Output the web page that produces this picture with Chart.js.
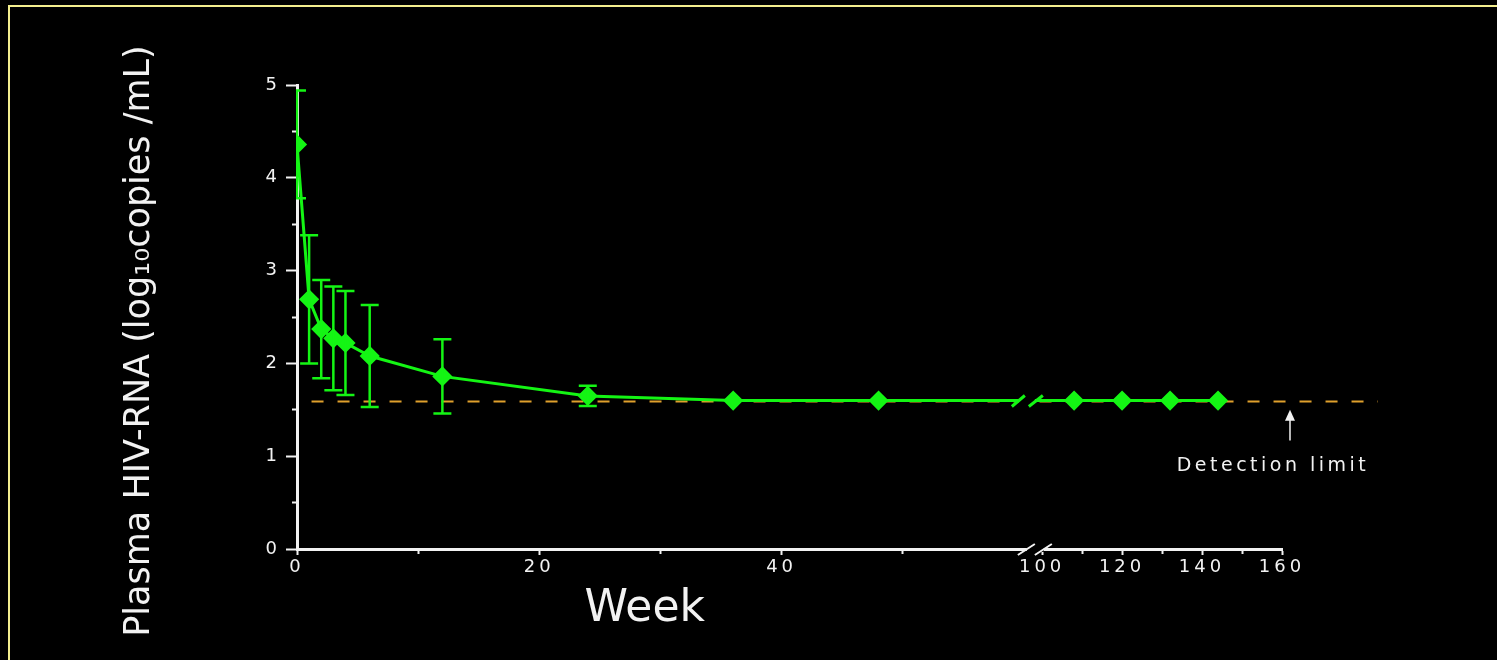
<!DOCTYPE html>
<html>
<head>
<meta charset="utf-8">
<script src="https://cdn.jsdelivr.net/npm/chart.js@4.4.1/dist/chart.umd.min.js"></script>
<style>
  html, body { margin: 0; background: #000; overflow: hidden; }
  #wrap { position: absolute; left: 0; top: 0; width: 1497px; height: 660px; }
  #frame {
    position: absolute; left: 8px; top: 5px; width: 1600px; height: 800px;
    border-left: 2px solid #f3ee8e; border-top: 2px solid #f3ee8e;
    pointer-events: none;
  }
</style>
</head>
<body>
<div id="wrap"><canvas id="hivChart"></canvas></div>
<div id="frame"></div>
<script>
// Plasma HIV-RNA, mean +/- SD by week
const weeks = [0, 1, 2, 3, 4, 6, 12, 24, 36, 48, 108, 120, 132, 144];
const meanLoad = [4.36, 2.69, 2.37, 2.27, 2.22, 2.08, 1.86, 1.65, 1.60, 1.60, 1.60, 1.60, 1.60, 1.60];
const sdLoad = [0.58, 0.69, 0.53, 0.56, 0.56, 0.55, 0.40, 0.11, 0, 0, 0, 0, 0, 0];
const detectionLimit = 1.59;
const detectionWeeks = [1.2, 184];
const xTickWeeks = [0, 10, 20, 30, 40, 50, 100, 110, 120, 130, 140, 150, 160];

const GREEN = "#14f514";
const WHITE = "#f2f2f2";
const FONT = '"DejaVu Sans", sans-serif';

// x axis is broken between week 60 and 100, later weeks are squeezed
const toAxis = (w) => (w <= 60 ? w : 61.5 + (w - 100) * 0.33);

const extras = {
  id: "extras",
  beforeDraw(chart) {
    chart.ctx.letterSpacing = "0px";
  },
  afterDatasetsDraw(chart) {
    const { ctx, chartArea, scales } = chart;
    const x = scales.x, y = scales.y;
    const pts = chart.getDatasetMeta(0).data;

    // error bars
    ctx.save();
    ctx.beginPath();
    ctx.rect(chartArea.left - 1, 0, chart.width, chart.height);
    ctx.clip();
    ctx.strokeStyle = GREEN;
    ctx.lineWidth = 2.5;
    sdLoad.forEach((sd, i) => {
      if (!sd) return;
      const px = pts[i].x;
      const top = y.getPixelForValue(meanLoad[i] + sd);
      const bot = y.getPixelForValue(meanLoad[i] - sd);
      ctx.beginPath();
      ctx.moveTo(px, top);
      ctx.lineTo(px, bot);
      ctx.moveTo(px - 9, top);
      ctx.lineTo(px + 9, top);
      ctx.moveTo(px - 9, bot);
      ctx.lineTo(px + 9, bot);
      ctx.stroke();
    });
    ctx.restore();

    // axis break marks
    ctx.save();
    const bx = x.getPixelForValue(60.9);
    const y0 = y.getPixelForValue(0);
    ctx.fillStyle = "#000";
    ctx.fillRect(bx - 8, y0 - 3, 17, 6);
    ctx.strokeStyle = WHITE;
    ctx.lineWidth = 2;
    ctx.beginPath();
    ctx.moveTo(bx - 17, y0 + 6); ctx.lineTo(bx, y0 - 5);
    ctx.moveTo(bx, y0 + 6); ctx.lineTo(bx + 17, y0 - 5);
    ctx.stroke();

    const lx = bx - 8;
    const ly = y.getPixelForValue(1.6);
    ctx.fillRect(lx - 8, ly - 4, 16, 8);
    ctx.strokeStyle = GREEN;
    ctx.lineWidth = 3;
    ctx.beginPath();
    ctx.moveTo(lx - 15, ly + 6); ctx.lineTo(lx - 2, ly - 5);
    ctx.moveTo(lx + 2, ly + 6); ctx.lineTo(lx + 16, ly - 5);
    ctx.stroke();
    ctx.restore();

    // tick labels come after this, they are spaced out like the original
    ctx.letterSpacing = "4px";
  },
  afterDraw(chart) {
    const { ctx, scales } = chart;
    const x = scales.x, y = scales.y;
    ctx.save();
    ctx.fillStyle = WHITE;
    ctx.strokeStyle = WHITE;

    // detection limit arrow + label
    const ax = x.getPixelForValue(toAxis(162));
    const tip = y.getPixelForValue(1.5);
    ctx.lineWidth = 1.5;
    ctx.beginPath();
    ctx.moveTo(ax, y.getPixelForValue(1.17));
    ctx.lineTo(ax, tip + 6);
    ctx.stroke();
    ctx.beginPath();
    ctx.moveTo(ax, tip);
    ctx.lineTo(ax - 5, tip + 11);
    ctx.lineTo(ax + 5, tip + 11);
    ctx.closePath();
    ctx.fill();

    ctx.letterSpacing = "3.5px";
    ctx.font = "19px " + FONT;
    ctx.textAlign = "center";
    ctx.textBaseline = "middle";
    ctx.fillText("Detection limit", ax - 17, y.getPixelForValue(0.89));

    // axis titles
    ctx.letterSpacing = "0px";
    ctx.font = "44px " + FONT;
    ctx.textBaseline = "alphabetic";
    ctx.fillText("Week", x.getPixelForValue(28.7), 621);

    ctx.translate(140, 341);
    ctx.rotate(-Math.PI / 2);
    ctx.font = "35px " + FONT;
    ctx.textBaseline = "middle";
    ctx.fillText("Plasma HIV-RNA (log₁₀copies /mL)", 0, 0);
    ctx.restore();
  },
};

const ctx = document.getElementById("hivChart");
new Chart(ctx, {
  type: "line",
  data: {
    datasets: [
      {
        label: "HIV-RNA",
        data: weeks.map((w, i) => ({ x: toAxis(w), y: meanLoad[i] })),
        borderColor: GREEN,
        backgroundColor: GREEN,
        borderWidth: 3,
        pointStyle: "rectRot",
        pointRadius: 8,
        pointHoverRadius: 8,
        order: 0,
        clip: { left: 0, top: 20, right: 20, bottom: 20 },
      },
      {
        label: "Detection limit",
        data: detectionWeeks.map((w) => ({ x: toAxis(w), y: detectionLimit })),
        borderColor: "#dfa02c",
        borderWidth: 2,
        borderDash: [12, 14],
        pointRadius: 0,
        order: 1,
        clip: false,
      },
    ],
  },
  options: {
    responsive: true,
    maintainAspectRatio: false,
    animation: false,
    events: [],
    layout: { padding: { left: 0, right: 215, top: 85, bottom: 0 } },
    plugins: {
      legend: { display: false },
      tooltip: { enabled: false },
    },
    scales: {
      x: {
        type: "linear",
        min: 0,
        max: toAxis(160),
        afterBuildTicks: (s) => {
          s.ticks = xTickWeeks.map((w) => ({ value: toAxis(w) }));
        },
        afterFit: (s) => {
          s.height = 111;
        },
        border: { color: WHITE, width: 3 },
        grid: {
          drawOnChartArea: false,
          color: WHITE,
          tickLength: 6,
          tickWidth: 2,
          tickBorderDash: (c) => (xTickWeeks[c.index] % 20 === 0 ? [] : [3, 10]),
        },
        ticks: {
          color: WHITE,
          font: { family: FONT, size: 18 },
          padding: 2,
          autoSkip: false,
          maxRotation: 0,
          z: 1,
          callback: (v, i) => (xTickWeeks[i] % 20 === 0 ? String(xTickWeeks[i]) : ""),
        },
      },
      y: {
        min: 0,
        max: 5,
        afterFit: (s) => {
          s.width = 297;
        },
        border: { color: WHITE, width: 3 },
        grid: {
          drawOnChartArea: false,
          color: WHITE,
          tickLength: 11,
          tickWidth: 2,
          tickBorderDash: (c) => (Number.isInteger(c.tick.value) ? [] : [5, 6]),
          tickBorderDashOffset: (c) => (Number.isInteger(c.tick.value) ? 0 : 5),
        },
        ticks: {
          stepSize: 0.5,
          color: WHITE,
          font: { family: FONT, size: 18 },
          padding: 5,
          z: 1,
          callback: (v) => (Number.isInteger(v) ? String(v) : ""),
        },
      },
    },
  },
  plugins: [extras],
});
</script>
</body>
</html>
